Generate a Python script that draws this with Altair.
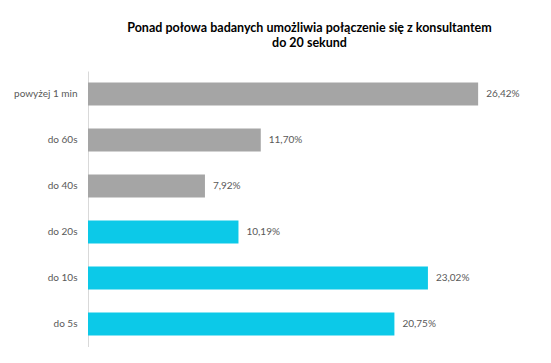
import altair as alt
import pandas as pd

categories = ["powyżej 1 min", "do 60s", "do 40s", "do 20s", "do 10s", "do 5s"]
values = [26.42, 11.70, 7.92, 10.19, 23.02, 20.75]
groups = ["ponad", "ponad", "ponad", "do20", "do20", "do20"]

df = pd.DataFrame({
    "cat": categories,
    "val": values,
    "grp": groups,
    "label": [f"{v:.2f}".replace(".", ",") + "%" for v in values],
})

FONT = "Lato"

base = alt.Chart(df).encode(
    y=alt.Y("cat:N", sort=categories,
            scale=alt.Scale(paddingInner=0.5, paddingOuter=0.25),
            axis=alt.Axis(title=None, ticks=False, domainColor="#D9D9D9",
                          labelColor="#595959", labelFont=FONT, labelFontSize=10,
                          labelPadding=11)),
    x=alt.X("val:Q", scale=alt.Scale(domain=[0, 30]), axis=None),
)

bars = base.mark_bar().encode(
    color=alt.Color("grp:N", scale=alt.Scale(domain=["ponad", "do20"],
                                             range=["#A5A5A5", "#0CC9E8"]),
                    legend=None)
)

texts = base.mark_text(align="left", dx=8, font=FONT, fontSize=10,
                       color="#595959").encode(text="label:N")

chart = (bars + texts).properties(
    width=443, height=276,
    autosize=alt.AutoSizeParams(type="none"),
    padding={"left": 80, "top": 63, "right": 0, "bottom": 0},
    title=alt.TitleParams(
        ["Ponad połowa badanych umożliwia połączenie się z konsultantem", "do 20 sekund"],
        font=FONT, fontSize=12.5, fontWeight="bold", color="#000000",
        anchor="middle", offset=22, lineHeight=15,
    ),
).configure_view(stroke=None)

chart.save("out.html", embed_options={"renderer": "svg", "actions": False})
